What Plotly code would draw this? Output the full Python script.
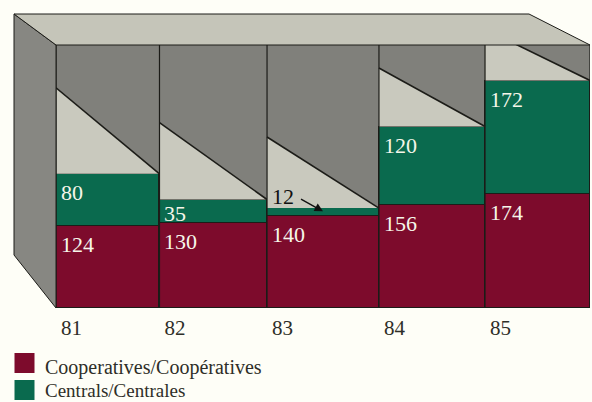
import plotly.graph_objects as go

years = ["81", "82", "83", "84", "85"]
cooperatives = [124, 130, 140, 156, 174]
centrals = [80, 35, 12, 120, 172]
shadow_tops = [335, 282, 260, 365, 424]

W, H = 592, 402
L, R, T, B = 56, 590, 45, 308
edges = [0, 0.969, 1.976, 3.024, 4.017, 5]
lefts = edges[:-1]
rights = edges[1:]
widths = [b - a for a, b in zip(lefts, rights)]
centres = [(a + b) / 2 for a, b in zip(lefts, rights)]
totals = [a + b for a, b in zip(cooperatives, centrals)]

RED, GREEN = "#7D0B2C", "#0A6A4E"
WALL, SIDE, TOP, LIGHT = "#80807B", "#878782", "#C5C5B9", "#C9C9BE"
EDGE, BG, INK = "#1C1C18", "#FEFEF7", "#2E2E28"
FONT = "Liberation Serif"

fig = go.Figure()
for name, vals, col in [("Cooperatives/Coopératives", cooperatives, RED),
                        ("Centrals/Centrales", centrals, GREEN)]:
    fig.add_bar(x=centres, y=vals, width=widths, name=name, showlegend=False,
                marker=dict(color=col, line=dict(color=EDGE, width=1.2)))

for a, b, tot, top in zip(lefts, rights, totals, shadow_tops):
    fig.add_scatter(x=[a, a, b, a], y=[tot, top, tot, tot], mode="lines", fill="toself",
                    fillcolor=LIGHT, line=dict(width=0), hoverinfo="skip", showlegend=False)
    fig.add_scatter(x=[a, b], y=[top, tot], mode="lines", line=dict(color=EDGE, width=1.6),
                    hoverinfo="skip", showlegend=False)

shapes = [
    dict(type="rect", xref="paper", yref="paper", x0=L / W, x1=R / W, y0=1 - B / H, y1=1 - T / H,
         fillcolor=WALL, line=dict(width=0), layer="below"),
    dict(type="path", xref="paper", yref="paper",
         path=f"M {14/W} {1-14/H} L {L/W} {1-T/H} L {L/W} {1-B/H} L {14/W} {1-255/H} Z",
         fillcolor=SIDE, line=dict(color=EDGE, width=1), layer="above"),
    dict(type="path", xref="paper", yref="paper",
         path=f"M {14/W} {1-14/H} L {529/W} {1-14/H} L {R/W} {1-T/H} L {L/W} {1-T/H} Z",
         fillcolor=TOP, line=dict(color=EDGE, width=1), layer="above"),
]
for e in edges:
    shapes.append(dict(type="line", xref="x", yref="paper", x0=e, x1=e, y0=1 - B / H, y1=1 - T / H,
                       line=dict(color=EDGE, width=1.2), layer="above"))
for y0, col in [(353, RED), (380, GREEN)]:
    shapes.append(dict(type="rect", xref="paper", yref="paper", x0=14.5 / W, x1=34.5 / W,
                       y0=1 - y0 / H, y1=1 - (y0 + 20) / H, fillcolor=col, line=dict(width=0)))

ann = []
for a, v in zip(lefts, cooperatives):
    ann.append(dict(x=a, y=v, text=str(v), xanchor="left", yanchor="top", xshift=3, yshift=-4,
                    showarrow=False, font=dict(family=FONT, size=22, color="#F6F6EA")))
for a, base, v in zip(lefts, cooperatives, centrals):
    if v < 20:
        continue
    ann.append(dict(x=a, y=base + v, text=str(v), xanchor="left", yanchor="top", xshift=3,
                    yshift=-4 if v > 50 else 1, showarrow=False,
                    font=dict(family=FONT, size=22, color="#F6F6EA")))
ann.append(dict(x=lefts[2], y=totals[2], text=str(centrals[2]), xanchor="left", yanchor="bottom",
                xshift=3, yshift=-3, showarrow=False, font=dict(family=FONT, size=22, color="#111111")))
ann.append(dict(x=lefts[2] + 0.524, y=totals[2] - 5, ax=-25, ay=-14, text=" ",
                showarrow=True, arrowhead=2, arrowsize=1.2, arrowwidth=1.4, arrowcolor="#111111"))
for y, t, size in [(367, "Cooperatives/Coopératives", 20), (390, "Centrals/Centrales", 19)]:
    ann.append(dict(xref="paper", yref="paper", x=43 / W, y=1 - y / H, text=t, xanchor="left",
                    yanchor="middle", showarrow=False, font=dict(family=FONT, size=size, color=INK)))

fig.update_layout(
    width=W, height=H, margin=dict(l=0, r=0, t=0, b=0), autosize=False,
    barmode="stack", bargap=0, paper_bgcolor=BG, plot_bgcolor="rgba(0,0,0,0)",
    shapes=shapes, annotations=ann, showlegend=False,
    xaxis=dict(domain=[L / W, R / W], range=[0, 5], tickmode="array",
               tickvals=[a + 0.145 for a in lefts], ticktext=years, ticks="", showgrid=False,
               zeroline=False, showline=False, ticklabelstandoff=5,
               tickfont=dict(family=FONT, size=21, color=INK)),
    yaxis=dict(domain=[1 - B / H, 1 - T / H], range=[0, 400], visible=False),
)
fig.write_html("out.html", config=dict(displayModeBar=False),
               post_script="document.body.style.margin='0';document.body.style.overflow='hidden';document.body.style.background='#FEFEF7';")
